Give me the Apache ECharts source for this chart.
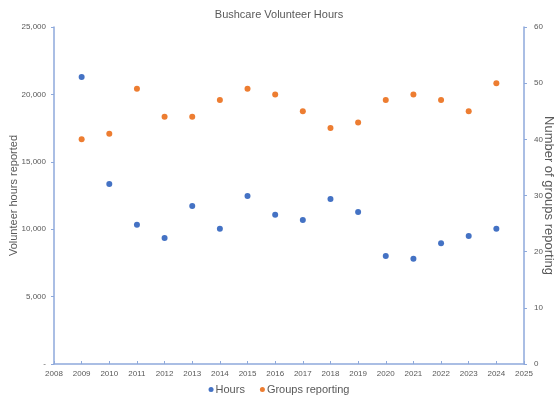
<!DOCTYPE html>
<html>
<head>
<meta charset="utf-8">
<script src="https://cdn.jsdelivr.net/npm/echarts@6/dist/echarts.min.js"></script>
<style>
  html, body { margin: 0; padding: 0; background: #fff; }
  #chart { width: 558px; height: 403px; }
</style>
</head>
<body>
<div id="chart"></div>
<script>
const years = [2009, 2010, 2011, 2012, 2013, 2014, 2015, 2016, 2017, 2018, 2019, 2020, 2021, 2022, 2023, 2024];
const hours = [21300, 13350, 10330, 9350, 11720, 10040, 12470, 11080, 10680, 12240, 11280, 8010, 7810, 8950, 9500, 10040];
const groups = [40, 41, 49, 44, 44, 47, 49, 48, 45, 42, 43, 47, 48, 47, 45, 50];

const axisColor = "#8EA9DB";
const textColor = "#595959";
const font = "Liberation Sans";

const chart = echarts.init(document.getElementById("chart"));

chart.setOption({
  animation: false,
  textStyle: { fontFamily: font },
  title: {
    text: "Bushcare Volunteer Hours",
    left: "center",
    top: 4,
    textStyle: { fontSize: 11, fontWeight: "normal", color: textColor, fontFamily: font },
  },
  legend: {
    bottom: 3,
    left: "center",
    icon: "circle",
    itemWidth: 5,
    itemHeight: 5,
    itemGap: 15,
    textStyle: { fontSize: 11, color: textColor, fontFamily: font, padding: [0, 0, 0, -3] },
    data: ["Hours", "Groups reporting"],
  },
  grid: { left: 54, right: 34, top: 27, bottom: 39, containLabel: false, outerBoundsMode: "none" },
  xAxis: {
    type: "value",
    min: 2008,
    max: 2025,
    interval: 1,
    splitLine: { show: false },
    axisLine: { lineStyle: { color: axisColor, width: 1.5 } },
    axisTick: { inside: true, length: 3, lineStyle: { color: axisColor } },
    axisLabel: {
      fontSize: 8,
      color: textColor,
      margin: 6,
      formatter: (v) => String(v),
    },
  },
  yAxis: [
    {
      type: "value",
      min: 0,
      max: 25000,
      interval: 5000,
      name: "Volunteer hours reported",
      nameLocation: "middle",
      nameGap: 35,
      nameMoveOverlap: false,
      nameTextStyle: { fontSize: 11, color: textColor },
      splitLine: { show: false },
      axisLine: { show: true, lineStyle: { color: axisColor, width: 1.5 } },
      axisTick: { show: true, length: 3, lineStyle: { color: axisColor } },
      axisLabel: {
        fontSize: 8,
        color: textColor,
        margin: 8,
        formatter: (v) => (v === 0 ? "-" : v.toLocaleString("en-US")),
      },
    },
    {
      type: "value",
      min: 0,
      max: 60,
      interval: 10,
      position: "right",
      name: "Number of groups reporting",
      nameLocation: "middle",
      nameGap: 18,
      nameRotate: -90,
      nameMoveOverlap: false,
      nameTextStyle: { fontSize: 13, color: textColor },
      splitLine: { show: false },
      axisLine: { show: true, lineStyle: { color: axisColor, width: 1.5 } },
      axisTick: { show: true, length: 3, lineStyle: { color: axisColor } },
      axisLabel: { fontSize: 8, color: textColor, margin: 10 },
    },
  ],
  series: [
    {
      name: "Hours",
      type: "scatter",
      yAxisIndex: 0,
      symbolSize: 6,
      itemStyle: { color: "#4472C4", opacity: 1 },
      data: years.map((y, i) => [y, hours[i]]),
    },
    {
      name: "Groups reporting",
      type: "scatter",
      yAxisIndex: 1,
      symbolSize: 6,
      itemStyle: { color: "#ED7D31", opacity: 1 },
      data: years.map((y, i) => [y, groups[i]]),
    },
  ],
});
</script>
</body>
</html>
